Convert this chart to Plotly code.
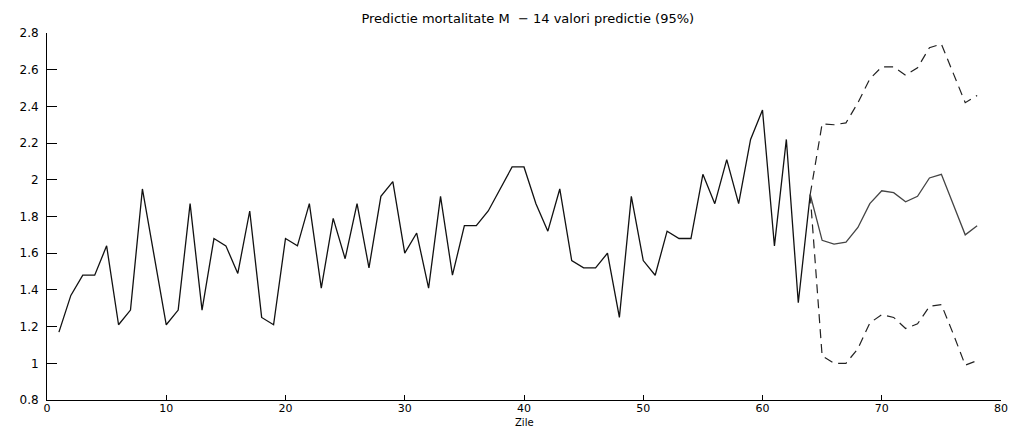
import plotly.graph_objects as go

# Observed series (days 1..64)
obs_x = list(range(1, 65))
obs_y = [1.17, 1.37, 1.48, 1.48, 1.64, 1.21, 1.29, 1.95, 1.58, 1.21,
         1.29, 1.87, 1.29, 1.68, 1.64, 1.49, 1.83, 1.25, 1.21, 1.68,
         1.64, 1.87, 1.41, 1.79, 1.57, 1.87, 1.52, 1.91, 1.99, 1.60,
         1.71, 1.41, 1.91, 1.48, 1.75, 1.75, 1.83, 1.95, 2.07, 2.07,
         1.87, 1.72, 1.95, 1.56, 1.52, 1.52, 1.60, 1.25, 1.91, 1.56,
         1.48, 1.72, 1.68, 1.68, 2.03, 1.87, 2.11, 1.87, 2.22, 2.38,
         1.64, 2.22, 1.33, 1.92]

# Prediction (days 64..78)
pred_x = list(range(64, 79))
pred_y = [1.92, 1.67, 1.65, 1.66, 1.74, 1.87, 1.94, 1.93, 1.88, 1.91,
          2.01, 2.03, 1.865, 1.70, 1.75]
upper_y = [1.92, 2.305, 2.30, 2.31, 2.42, 2.55, 2.615, 2.615, 2.57, 2.61,
           2.72, 2.74, 2.58, 2.42, 2.46]
lower_y = [1.92, 1.04, 1.00, 1.00, 1.08, 1.22, 1.265, 1.25, 1.19, 1.215,
           1.31, 1.32, 1.16, 0.99, 1.015]

x_ticks = [0, 10, 20, 30, 40, 50, 60, 70, 80]
y_ticks = [0.8, 1.0, 1.2, 1.4, 1.6, 1.8, 2.0, 2.2, 2.4, 2.6, 2.8]
y_labels = ["0.8", "1", "1.2", "1.4", "1.6", "1.8", "2", "2.2", "2.4", "2.6", "2.8"]

title_text = "Predictie mortalitate M \u00a0\u2212 14 valori predictie (95%)"
xlabel = "Zile"

fig = go.Figure()
fig.add_trace(go.Scatter(x=obs_x, y=obs_y, mode="lines",
                         line=dict(color="#111111", width=1.3), showlegend=False))
fig.add_trace(go.Scatter(x=pred_x, y=upper_y, mode="lines",
                         line=dict(color="#222222", width=1.2, dash="9px,6px"), showlegend=False))
fig.add_trace(go.Scatter(x=pred_x, y=lower_y, mode="lines",
                         line=dict(color="#222222", width=1.2, dash="9px,6px"), showlegend=False))
fig.add_trace(go.Scatter(x=pred_x, y=pred_y, mode="lines",
                         line=dict(color="#444444", width=1.3), showlegend=False))

font_family = "DejaVu Sans, Liberation Sans, Arial, sans-serif"

fig.update_layout(
    width=1014, height=428,
    margin=dict(l=47, r=13, t=33, b=28, autoexpand=False),
    paper_bgcolor="white", plot_bgcolor="white",
    font=dict(family=font_family, size=12, color="black"),
    title=dict(text=title_text, x=0.5205, xanchor="center", y=0.958, yanchor="middle",
               font=dict(family=font_family, size=13, color="black")),
    annotations=[dict(text=xlabel, x=40, xref="x", y=0, yref="paper",
                      xanchor="center", yanchor="middle", yshift=-22,
                      showarrow=False, font=dict(family=font_family, size=10, color="black"))],
)
fig.update_xaxes(range=[0, 80], tickvals=x_ticks, ticks="inside", ticklen=5, tickwidth=1,
                 tickcolor="black", showline=True, linecolor="black", linewidth=1,
                 showgrid=False, zeroline=False, mirror=False, automargin=False,
                 tickfont=dict(size=11), ticklabelstandoff=-2)
fig.update_yaxes(range=[0.8, 2.8], tickvals=y_ticks, ticktext=y_labels, ticks="inside",
                 ticklen=10, tickwidth=1, tickcolor="black", showline=True,
                 linecolor="black", linewidth=1, showgrid=False, zeroline=False,
                 mirror=False, automargin=False, tickfont=dict(size=12),
                 ticklabelstandoff=5)

fig.write_html("out.html")
